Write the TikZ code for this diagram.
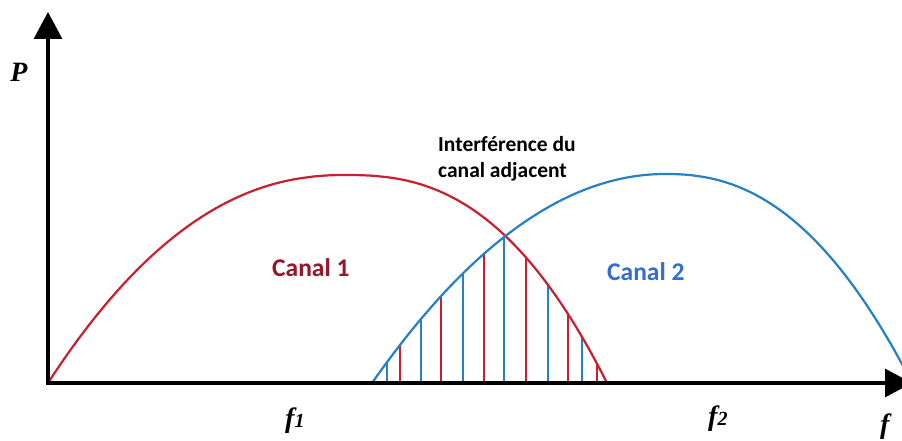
\documentclass[tikz,border=0pt]{standalone}
\usepackage{fontspec}
\setmainfont{Liberation Serif}
\newfontfamily\carlito{Carlito}
\usetikzlibrary{arrows.meta}
\definecolor{redc}{RGB}{200,32,48}
\definecolor{bluec}{RGB}{38,128,196}
\definecolor{canalone}{RGB}{150,22,42}
\definecolor{canaltwo}{RGB}{52,108,210}
\begin{document}
\begin{tikzpicture}[x=1pt,y=-1pt,
  curve/.style={line width=2.2pt},
  hatch/.style={line width=2pt},
  axis/.style={line width=3.2pt, line join=miter,
     {Triangle[length=27pt,width=28pt]}-{Triangle[length=27pt,width=28pt]}},
  lbl/.style={font=\carlito\bfseries\fontsize{21.5}{25}\selectfont, anchor=base west, inner sep=0pt},
  canal/.style={font=\carlito\bfseries\fontsize{25.5}{29}\selectfont, anchor=base west, inner sep=0pt},
  axlbl/.style={font=\bfseries\itshape\fontsize{28}{30}\selectfont, inner sep=0pt}]
\useasboundingbox (0,0) rectangle (902,441);
\fill[white] (0,0) rectangle (902,441);
\clip (0,0) rectangle (902,441);

% hatching in the overlap
\foreach \xx/\cc in {387/bluec,400/redc,421/bluec,441/redc,463/bluec,484/redc,504/bluec,526/redc,548/bluec,568/redc,582/bluec,597/redc}{
  \pgfmathsetmacro\hb{209*(1-((665-\xx)/293)^2)}
  \pgfmathsetmacro\hr{208*(1-((\xx-345)/262)^2.5)}
  \pgfmathsetmacro\hh{min(\hb,\hr)}
  \draw[hatch,\cc] (\xx,383) -- (\xx,{383-\hh});
}

% channel 1
\draw[curve,redc] plot[domain=1:0.01,samples=60] ({345-297*\x},{383-208*(1-\x^2.2)})
   -- plot[domain=0.01:1,samples=60] ({345+262*\x},{383-208*(1-\x^2.5)});
% channel 2
\draw[curve,bluec] plot[domain=1:0.01,samples=60] ({665-293*\x},{383-209*(1-\x^2)})
   -- plot[domain=0.01:1,samples=60] ({665+247*\x},{383-209*(1-\x^2.3)});

% axes
\coordinate (ytop) at (48,12);
\coordinate (orig) at (48,383);
\coordinate (xend) at (912,383);
\draw[axis] (ytop) -- (orig) -- (xend);

% labels
\node[axlbl] (P) at (19,72) {P};
\node[lbl] (int1) at (438,151) {Interférence du};
\node[lbl] (int2) at (438,177) {canal adjacent};
\node[canal,text=canalone] (c1) at (272,276) {Canal 1};
\node[canal,text=canaltwo] (c2) at (607,280) {Canal 2};
\node[axlbl,anchor=base west] (f1) at (285,427) {f\fontsize{20}{22}\selectfont 1};
\node[axlbl,anchor=base west] (f2) at (708,425) {f\fontsize{20}{22}\selectfont 2};
\node[axlbl,anchor=base west] (fx) at (880,433) {f};
\end{tikzpicture}
\end{document}
